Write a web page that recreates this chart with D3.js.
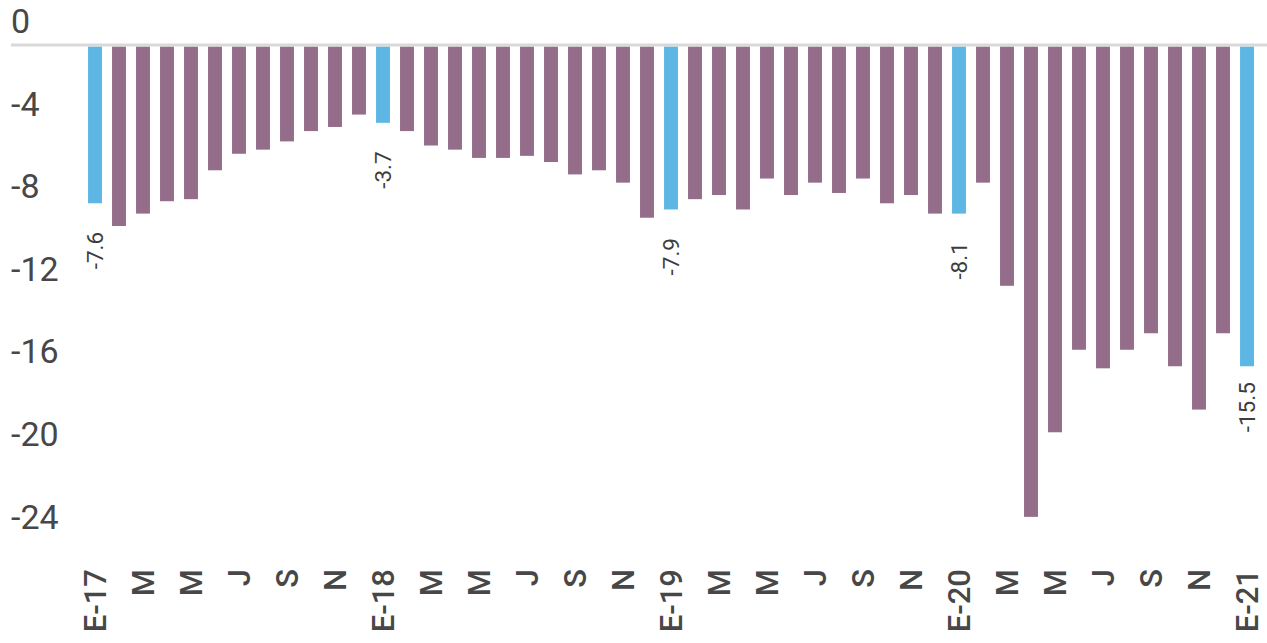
<!DOCTYPE html>
<html>
<head>
<meta charset="utf-8">
<script src="https://cdn.jsdelivr.net/npm/d3@7"></script>
<style>
  html, body { margin: 0; padding: 0; background: #ffffff; }
  svg { display: block; }
</style>
</head>
<body>
<div id="chart"></div>
<script>
// ---- data ----
const months = ["E","F","M","A","M","J","J","A","S","O","N","D"];
const years = ["17","18","19","20","21"];
const categories = [];
years.forEach((y, yi) => months.forEach((m, mi) => {
  if (yi < years.length - 1 || mi === 0) categories.push(mi === 0 ? "E-" + y : m);
}));
const values = [
  -7.6, -8.7, -8.1, -7.5, -7.4, -6.0, -5.2, -5.0, -4.6, -4.1, -3.9, -3.3,
  -3.7, -4.1, -4.8, -5.0, -5.4, -5.4, -5.3, -5.6, -6.2, -6.0, -6.6, -8.3,
  -7.9, -7.4, -7.2, -7.9, -6.4, -7.2, -6.6, -7.1, -6.4, -7.6, -7.2, -8.1,
  -8.1, -6.6, -11.6, -22.8, -18.7, -14.7, -15.6, -14.7, -13.9, -15.5, -17.6, -13.9,
  -15.5
];
const yTicks = [0, -4, -8, -12, -16, -20, -24];

// ---- layout ----
const W = 1267, H = 643;
const purple = "#946d8a", blue = "#5eb6e4", textCol = "#474747";

const svg = d3.select("#chart").append("svg").attr("width", W).attr("height", H);

const x = d3.scaleBand()
  .domain(d3.range(categories.length))
  .range([83, 1259])
  .paddingInner(0.42)
  .paddingOuter(0.21);

const y = d3.scaleLinear().domain([0, -24]).range([46.5, 46.5 + 24 * 20.63]);

// bars
svg.append("g").selectAll("rect")
  .data(values)
  .join("rect")
  .attr("x", (d, i) => x(i))
  .attr("width", x.bandwidth())
  .attr("y", y(0))
  .attr("height", d => y(d) - y(0))
  .attr("fill", (d, i) => i % 12 === 0 ? blue : purple);

// zero line
svg.append("line")
  .attr("x1", 11).attr("x2", W)
  .attr("y1", y(0) - 1.5).attr("y2", y(0) - 1.5)
  .attr("stroke", "#d9d9d9").attr("stroke-width", 3);

// y-axis labels (drawn above their values)
svg.append("g").selectAll("text")
  .data(yTicks)
  .join("text")
  .attr("x", 11)
  .attr("y", d => y(d) - 25)
  .attr("dy", "0.35em")
  .attr("font-family", "Roboto, sans-serif")
  .attr("font-size", 34)
  .attr("fill", textCol)
  .text(d => d === 0 ? "0" : "-" + Math.abs(d));

// x-axis labels (every other month), rotated
svg.append("g").selectAll("text")
  .data(categories.map((c, i) => ({ c, i })).filter(d => d.i % 2 === 0))
  .join("text")
  .attr("transform", d => `translate(${x(d.i) + x.bandwidth() / 2},569) rotate(-90)`)
  .attr("text-anchor", "end")
  .attr("dy", "0.36em")
  .attr("font-family", "Roboto, sans-serif")
  .attr("font-weight", 500)
  .attr("font-size", 31)
  .attr("fill", textCol)
  .text(d => d.c);

// data labels on January bars
svg.append("g").selectAll("text")
  .data(values.map((v, i) => ({ v, i })).filter(d => d.i % 12 === 0))
  .join("text")
  .attr("transform", d => `translate(${x(d.i) + x.bandwidth() / 2},${y(d.v) + 66}) rotate(-90)`)
  .attr("text-anchor", "start")
  .attr("dy", "0.35em")
  .attr("font-family", "Roboto, sans-serif")
  .attr("font-size", 22.5)
  .attr("fill", "#3d3d3d")
  .text(d => d.v.toFixed(1));
</script>
</body>
</html>
